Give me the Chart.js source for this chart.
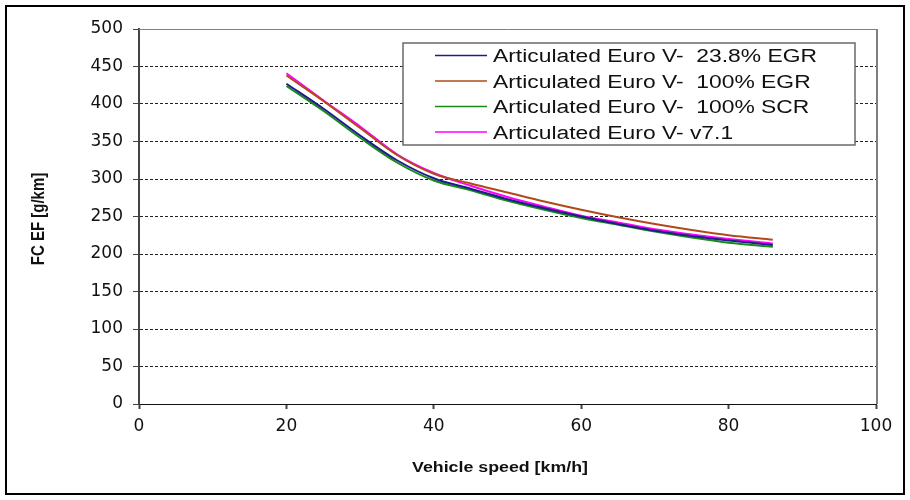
<!DOCTYPE html>
<html>
<head>
<meta charset="utf-8">
<title>FC EF vs vehicle speed</title>
<script src="https://cdn.jsdelivr.net/npm/chart.js@4"></script>
<style>
    body { margin: 0; background: #fff; }
    #wrap { width: 910px; height: 500px; }
</style>
</head>
<body>
<div id="wrap"><canvas id="fc-chart" width="910" height="500"></canvas></div>
<script>
// speed points along the curves [km/h]
var speeds = [20, 25, 30, 35, 40, 45, 50, 55, 60, 65, 70, 75, 80, 86];

// fuel consumption emission factor [g/km]
var egr238 = [427, 394, 358, 325, 301, 287, 273, 261, 250, 240, 231, 224, 218, 212];
var egr100 = [438, 404, 368, 332, 307, 294, 282, 270, 259, 249, 240, 232, 225, 219];
var scr100 = [424, 391, 355, 322, 298, 285, 271, 259, 248, 239, 230, 222, 215, 209.5];
var v71    = [441, 405, 370, 333, 308, 291, 276, 263, 251, 242, 233, 226, 220, 214];

var seriesNames = [
    'Articulated Euro V-  23.8% EGR',
    'Articulated Euro V-  100% EGR',
    'Articulated Euro V-  100% SCR',
    'Articulated Euro V- v7.1'
];
var seriesColors = ['#1c1c8a', '#b04a1a', '#168c16', '#ff00ff'];
var seriesValues = [egr238, egr100, scr100, v71];

var yTicks = [0, 50, 100, 150, 200, 250, 300, 350, 400, 450, 500];
var xTicks = [0, 20, 40, 60, 80, 100];

var xTitle = 'Vehicle speed [km/h]';
var yTitle = 'FC EF [g/km]';

// the text in this chart is set a bit wide
var STRETCH = 1.27;

function toPoints(values) {
    return speeds.map(function(s, i) { return { x: s, y: values[i] }; });
}

var datasets = seriesValues.map(function(vals, i) {
    return {
        label: seriesNames[i],
        data: toPoints(vals),
        borderColor: seriesColors[i],
        backgroundColor: seriesColors[i],
        borderWidth: 2,
        pointRadius: 0,
        cubicInterpolationMode: 'monotone',
        fill: false
    };
});

function wideText(ctx, text, x, y, align) {
    ctx.save();
    ctx.translate(x, y);
    ctx.scale(STRETCH, 1);
    ctx.textAlign = align || 'left';
    ctx.fillText(text, 0, 0);
    ctx.restore();
}

// outer frame, axis titles and the boxed legend inside the plot
var framePlugin = {
    id: 'frame',
    afterDraw: function(chart) {
        var ctx = chart.ctx;
        var a = chart.chartArea;
        ctx.save();

        // top + right edge of plot
        ctx.strokeStyle = '#808080';
        ctx.lineWidth = 1;
        ctx.beginPath();
        ctx.moveTo(a.left, a.top + 0.5);
        ctx.lineTo(a.right, a.top + 0.5);
        ctx.stroke();
        ctx.lineWidth = 2;
        ctx.beginPath();
        ctx.moveTo(a.right + 1, a.top);
        ctx.lineTo(a.right + 1, a.bottom);
        ctx.stroke();

        // outer border
        ctx.strokeStyle = '#000';
        ctx.lineWidth = 2;
        ctx.strokeRect(6, 6, 898, 488);

        // axis titles
        ctx.fillStyle = '#111';
        ctx.font = 'bold 14px "Liberation Sans", Arial, sans-serif';
        ctx.textBaseline = 'alphabetic';
        wideText(ctx, xTitle, 500, 472, 'center');

        ctx.font = 'bold 15px "Liberation Sans", Arial, sans-serif';
        ctx.save();
        ctx.translate(39, 219);
        ctx.scale(STRETCH, 1);
        ctx.rotate(-Math.PI / 2);
        ctx.textAlign = 'center';
        ctx.textBaseline = 'middle';
        ctx.fillText(yTitle, 0, 0);
        ctx.restore();

        // legend box
        var bx = 403, by = 43, bw = 452, bh = 102;
        ctx.fillStyle = '#fff';
        ctx.fillRect(bx, by, bw, bh);
        ctx.strokeStyle = '#6a6a6a';
        ctx.lineWidth = 1.5;
        ctx.strokeRect(bx, by, bw, bh);

        ctx.font = '18px "Liberation Sans", Arial, sans-serif';
        ctx.textBaseline = 'alphabetic';
        chart.data.datasets.forEach(function(ds, i) {
            var y = 55.5 + i * 25.5;
            ctx.strokeStyle = ds.borderColor;
            ctx.lineWidth = 1.5;
            ctx.beginPath();
            ctx.moveTo(435, y);
            ctx.lineTo(487, y);
            ctx.stroke();
            ctx.fillStyle = '#111';
            wideText(ctx, ds.label, 493, y + 6.5, 'left');
        });
        ctx.restore();
    }
};

var tickFont = { family: '"DejaVu Sans", Arial', size: 17 };

var ctx = document.getElementById('fc-chart').getContext('2d');
var fcChart = new Chart(ctx, {
    type: 'line',
    data: { datasets: datasets },
    options: {
        responsive: false,
        animation: false,
        layout: {
            padding: { left: 0, top: 29, right: 34, bottom: 0 }
        },
        scales: {
            x: {
                type: 'linear',
                min: 0,
                max: 100,
                afterBuildTicks: function(scale) {
                    scale.ticks = xTicks.map(function(v) { return { value: v }; });
                },
                afterFit: function(scale) { scale.height = 96; },
                grid: {
                    drawOnChartArea: false,
                    drawTicks: true,
                    tickLength: 5,
                    tickColor: '#444',
                    tickWidth: 2
                },
                border: { display: true, color: '#111', width: 1 },
                ticks: {
                    color: '#111',
                    padding: 7,
                    maxRotation: 0,
                    font: tickFont
                },
                title: { display: false }
            },
            y: {
                min: 0,
                max: 500,
                afterBuildTicks: function(scale) {
                    scale.ticks = yTicks.map(function(v) { return { value: v }; });
                },
                afterFit: function(scale) { scale.width = 139; },
                grid: {
                    color: function(c) {
                        var v = c.tick ? c.tick.value : 0;
                        return (v === 0 || v === 500) ? 'rgba(0,0,0,0)' : '#222';
                    },
                    tickColor: '#444',
                    tickLength: 6,
                    lineWidth: 1
                },
                border: { display: true, color: '#444', width: 2, dash: [3, 2] },
                ticks: {
                    color: '#111',
                    padding: 10,
                    font: tickFont
                },
                title: { display: false }
            }
        },
        plugins: {
            legend: { display: false },
            tooltip: { enabled: false }
        }
    },
    plugins: [framePlugin]
});
</script>
</body>
</html>
